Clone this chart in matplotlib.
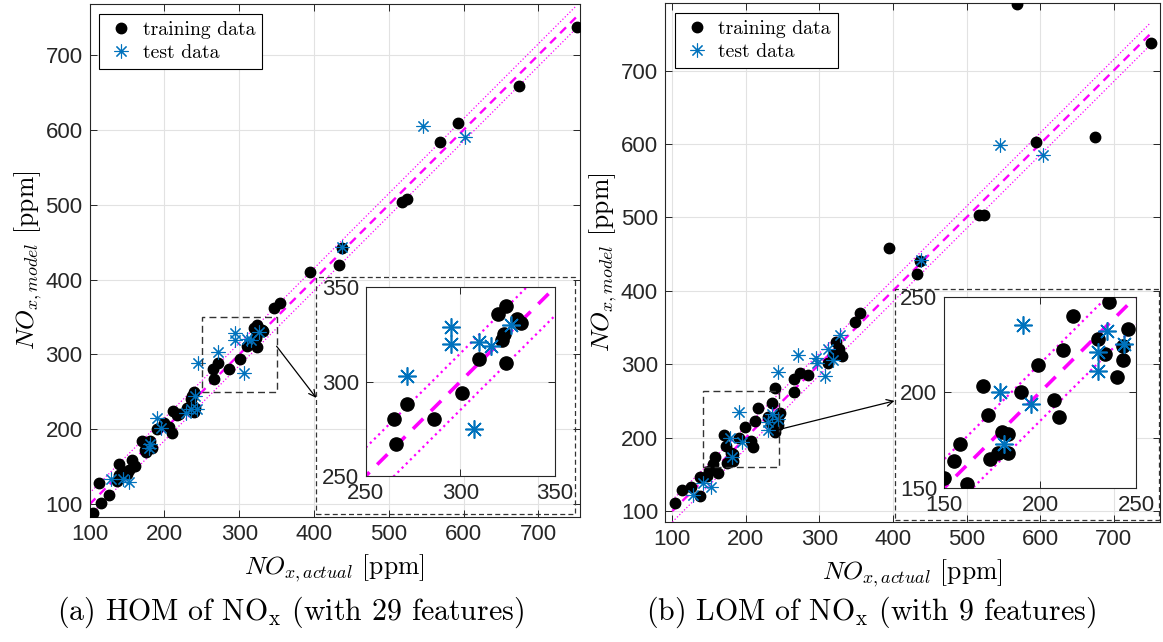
import numpy as np
import matplotlib
matplotlib.use('Agg')
import matplotlib.pyplot as plt
from matplotlib.patches import Rectangle

# (a) HOM of NOx, 29 features  -- actual vs model [ppm]
hom_train_actual = [751, 674, 593, 568, 517, 524, 437, 433, 395, 347, 355, 239, 237, 235, 241, 230,
                    239, 219, 217, 212, 199, 190, 210, 206, 170, 181, 175, 184, 174, 139, 159, 157,
                    152, 146, 150, 161, 139, 137, 112, 126, 115, 104,
                    266, 265, 272, 286, 301, 310, 324, 324, 320, 323, 322, 332, 330]
hom_train_model = [737, 659, 609, 584, 503, 508, 442, 419, 410, 362, 369, 250, 244, 241, 229, 229,
                   223, 221, 219, 225, 208, 200, 195, 203, 185, 185, 170, 175, 172, 154, 151, 159,
                   146, 143, 141, 151, 139, 131, 128, 113, 102, 88,
                   267, 280, 288, 280, 294, 312, 310, 340, 336, 325, 322, 331, 333]
hom_test_actual = [545, 602, 437, 241, 235, 229, 244, 190, 195, 181, 179, 128, 144, 152, 245,
                   272, 295, 295, 310, 316, 327, 307]
hom_test_model = [605, 591, 444, 244, 227, 222, 227, 215, 202, 181, 175, 134, 134, 130, 288,
                  303, 329, 320, 321, 319, 330, 275]

# (b) LOM of NOx, 9 features
lom_train_actual = [569, 751, 674, 594, 517, 524, 395, 437, 433, 355, 348, 323, 326, 330, 319, 312,
                    285, 273, 266, 266, 240, 137, 126, 137, 113, 103, 147,
                    150, 155, 158, 162, 170, 173, 174, 180, 183, 183, 178, 190, 199, 207, 210, 212,
                    217, 230, 234, 236, 243, 240, 246, 243]
lom_train_model = [791, 737, 609, 602, 503, 503, 458, 441, 423, 370, 357, 330, 321, 311, 312, 302,
                   285, 288, 280, 262, 267, 146, 133, 121, 128, 111, 147,
                   155, 164, 173, 152, 203, 188, 165, 179, 178, 168, 168, 200, 214, 196, 187, 222,
                   240, 228, 220, 247, 217, 208, 233, 224]
lom_test_actual = [545, 604, 438, 328, 271, 311, 295, 318, 297, 307, 243, 142, 153, 128,
                   191, 179, 195, 181, 230, 230, 235, 244]
lom_test_model = [598, 585, 442, 340, 312, 321, 308, 306, 301, 284, 289, 138, 133, 122,
                  235, 200, 194, 173, 221, 211, 232, 225]

ticks_main = [100, 200, 300, 400, 500, 600, 700]
band = 15  # +/- band around the ideal line [ppm]
line_range = [100, 750]

W, H = 1163, 642
mblue = '#0072BD'
axcol = '#262626'

plt.rcParams['font.family'] = ['Liberation Sans', 'DejaVu Sans']
plt.rcParams['mathtext.fontset'] = 'cm'
plt.rcParams['axes.unicode_minus'] = False


def px_rect(x0, y0, x1, y1):
    return [x0 / W, 1 - y1 / H, (x1 - x0) / W, (y1 - y0) / H]


def style_axes(ax, ticks, labelsize=16):
    ax.set_xticks(ticks)
    ax.set_yticks(ticks)
    ax.grid(True, color='#e2e2e2', lw=0.8)
    ax.set_axisbelow(True)
    ax.tick_params(direction='in', top=True, right=True, length=5, width=0.7,
                   colors=axcol, labelsize=labelsize, pad=5)
    for sp in ax.spines.values():
        sp.set_color(axcol)
        sp.set_linewidth(0.8)


def draw_lines(ax, lw_dash, lw_dot, dashes):
    xs = np.array(line_range, dtype=float)
    ax.plot(xs, xs + band, ':', color='magenta', lw=lw_dot, zorder=2)
    ax.plot(xs, xs - band, ':', color='magenta', lw=lw_dot, zorder=2)
    ax.plot(xs, xs, '--', color='magenta', lw=lw_dash, dashes=dashes, zorder=2)


def panel(main_px, inset_px, tr_x, tr_y, te_x, te_y, xlim, ylim, zlim,
          src_box, arrow_from, arrow_to, frame_box, caption, cap_x):
    ax = fig.add_axes(px_rect(*main_px))
    ax.plot(tr_x, tr_y, 'o', color='k', ms=7.5, ls='none', label='training data', zorder=3)
    ax.plot(te_x, te_y, marker=(8, 2, 0), color=mblue, ms=10, mew=0.8, ls='none',
            label='test data', zorder=3)
    draw_lines(ax, 1.7, 0.9, (3.5, 2.5))
    ax.set_xlim(*xlim)
    ax.set_ylim(*ylim)
    style_axes(ax, ticks_main)
    ax.set_xlabel(r'$NO_{x,actual}$ [ppm]', fontsize=18.5, family='cmr10', labelpad=5)
    ax.set_ylabel(r'$NO_{x,model}$ [ppm]', fontsize=18.5, family='cmr10', labelpad=1)
    leg = ax.legend(loc='upper left', prop={'family': 'cmr10', 'size': 14.2}, fancybox=False,
                    edgecolor='k', framealpha=1, handletextpad=0.35, borderpad=0.35,
                    labelspacing=0.25, handlelength=1.5, borderaxespad=0.5)
    leg.get_frame().set_linewidth(0.8)

    # zoom source rectangle + frame around the inset + arrow
    ax.add_patch(Rectangle((src_box[0], src_box[1]), src_box[2], src_box[3], fill=False,
                           ls=(0, (5, 3)), lw=1.0, ec='#333333', zorder=5))
    ax.add_patch(Rectangle((frame_box[0], frame_box[1]), frame_box[2], frame_box[3],
                           fill=False, ls=(0, (4, 2.5)), lw=0.9, ec='#333333', zorder=5,
                           clip_on=False))
    ax.annotate('', xy=arrow_to, xytext=arrow_from,
                arrowprops=dict(arrowstyle='->', color='k', lw=0.9, mutation_scale=12,
                                shrinkA=0, shrinkB=0), zorder=6)

    ins = fig.add_axes(px_rect(*inset_px))
    ins.plot(tr_x, tr_y, 'o', color='k', ms=9.5, ls='none', zorder=3)
    ins.plot(te_x, te_y, marker=(8, 2, 0), color=mblue, ms=13, mew=1.2, ls='none', zorder=3)
    draw_lines(ins, 2.6, 1.6, (4, 3))
    ins.set_xlim(*zlim)
    ins.set_ylim(*zlim)
    style_axes(ins, [zlim[0], (zlim[0] + zlim[1]) / 2, zlim[1]])
    ins.set_xticklabels([str(int(t)) for t in ins.get_xticks()])
    ins.set_yticklabels([str(int(t)) for t in ins.get_yticks()])

    fig.text(cap_x / W, 1 - 612 / H, caption, ha='center', va='center', fontsize=21.5,
             family='cmr10')


fig = plt.figure(figsize=(W / 100, H / 100), dpi=100)

panel((89.6, 4, 579.6, 517), (365.7, 287.3, 555, 476),
      hom_train_actual, hom_train_model, hom_test_actual, hom_test_model,
      (100.5, 755), (83, 768), (250, 350),
      (250, 250, 100, 100), (350, 311), (403, 242), (403, 87, 346, 317),
      r'(a) HOM of NO$_{\mathrm{x}}$ (with 29 features)', 290)

panel((665, 3, 1160, 522), (944.3, 296.7, 1136, 487.7),
      lom_train_actual, lom_train_model, lom_test_actual, lom_test_model,
      (90, 763), (85, 792), (150, 250),
      (141, 160, 104, 103), (245, 211), (402, 250), (403, 88, 358, 315),
      r'(b) LOM of NO$_{\mathrm{x}}$ (with 9 features)', 871)

fig.savefig('out.png', dpi=100)
